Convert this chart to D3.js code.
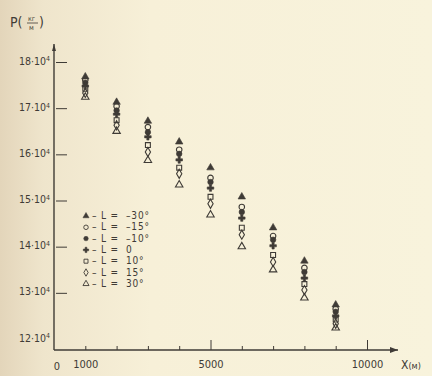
<!DOCTYPE html>
<html>
<head>
<meta charset="utf-8">
<script src="https://cdn.jsdelivr.net/npm/d3@7"></script>
<style>
  html, body { margin: 0; padding: 0; }
  body { width: 432px; height: 376px; overflow: hidden; }
  text { font-family: "DejaVu Sans Condensed", "Liberation Sans Narrow", sans-serif; fill: #3f3b36; }
</style>
</head>
<body>
<div id="chart"></div>
<script>
// distance along the path, metres
const distances = [1000, 2000, 3000, 4000, 5000, 6000, 7000, 8000, 9000];

// angle L for each series, degrees
const angles = [-30, -15, -10, 0, 10, 15, 30];

// P values, units of 10^4, one list per angle
const pLm30 = [17.68, 17.13, 16.72, 16.27, 15.71, 15.08, 14.41, 13.69, 12.74];
const pLm15 = [17.61, 17.04, 16.59, 16.10, 15.49, 14.86, 14.23, 13.54, 12.65];
const pLm10 = [17.55, 16.95, 16.48, 16.01, 15.40, 14.75, 14.15, 13.45, 12.59];
const pL0   = [17.48, 16.87, 16.38, 15.88, 15.27, 14.62, 14.02, 13.32, 12.50];
const pL10  = [17.42, 16.74, 16.20, 15.71, 15.08, 14.41, 13.82, 13.19, 12.42];
const pL15  = [17.33, 16.63, 16.05, 15.58, 14.93, 14.26, 13.67, 13.06, 12.33];
const pL30  = [17.24, 16.50, 15.87, 15.34, 14.69, 14.00, 13.50, 12.89, 12.24];

const xTicks = [1000, 2000, 3000, 4000, 5000, 6000, 7000, 8000, 9000, 10000];
const xLabels = {0: '0', 1000: '1000', 5000: '5000', 10000: '10000'};
const yTicks = [12, 13, 14, 15, 16, 17, 18];

const series = [
  {angle: angles[0], values: pLm30, shape: d3.symbolTriangle, fill: true},
  {angle: angles[1], values: pLm15, shape: d3.symbolCircle, fill: false},
  {angle: angles[2], values: pLm10, shape: d3.symbolCircle, fill: true},
  {angle: angles[3], values: pL0, shape: d3.symbolCross, fill: true},
  {angle: angles[4], values: pL10, shape: d3.symbolSquare, fill: false},
  {angle: angles[5], values: pL15, shape: d3.symbolDiamond, fill: false},
  {angle: angles[6], values: pL30, shape: d3.symbolTriangle, fill: false}
];

const ink = '#3f3b36';
const W = 432, H = 376;

const svg = d3.select('#chart').append('svg')
  .attr('width', W)
  .attr('height', H);

// paper
const defs = svg.append('defs');
const grad = defs.append('linearGradient').attr('id', 'paper');
grad.append('stop').attr('offset', '0%').attr('stop-color', '#e3d5ba');
grad.append('stop').attr('offset', '10%').attr('stop-color', '#efe5cc');
grad.append('stop').attr('offset', '35%').attr('stop-color', '#f7f0d8');
grad.append('stop').attr('offset', '100%').attr('stop-color', '#f8f3dc');
svg.append('rect').attr('width', W).attr('height', H).attr('fill', 'url(#paper)');

const x = d3.scaleLinear().domain([0, 10000]).range([54, 367]);
const y = d3.scaleLinear().domain([12, 18]).range([339, 62]);
const axisY = 350;

// x axis
const gx = svg.append('g')
  .attr('transform', 'translate(0,' + axisY + ')')
  .call(d3.axisBottom(x)
    .tickValues(xTicks)
    .tickSizeInner(-4)
    .tickSizeOuter(0)
    .tickPadding(10)
    .tickFormat(d => xLabels[d] || ''));
gx.select('.domain').remove();
gx.selectAll('.tick line')
  .attr('stroke', ink)
  .attr('y2', d => (d === 5000 || d === 10000) ? -10 : -4);
gx.selectAll('.tick text').style('font-size', '11px').attr('fill', ink);
svg.append('text').attr('x', x(0) + 3).attr('y', axisY + 20)
  .attr('text-anchor', 'middle').style('font-size', '11px').text('0');

svg.append('line')
  .attr('x1', x(0)).attr('x2', 398)
  .attr('y1', axisY).attr('y2', axisY)
  .attr('stroke', ink).attr('stroke-width', 1.4);
svg.append('path')
  .attr('d', 'M398,' + axisY + 'l-8,-3l0,6z')
  .attr('fill', ink);
const xl = svg.append('text').attr('x', 401).attr('y', axisY + 19).style('font-size', '12px');
xl.append('tspan').text('X');
xl.append('tspan').style('font-size', '9px').text('(м)');

// y axis
const gy = svg.append('g')
  .attr('transform', 'translate(' + x(0) + ',0)')
  .call(d3.axisLeft(y)
    .tickValues(yTicks)
    .tickSizeInner(-13)
    .tickSizeOuter(0)
    .tickPadding(4)
    .tickFormat(d => d));
gy.select('.domain').remove();
gy.selectAll('.tick line')
  .attr('stroke', ink)
  .attr('x1', 2)
  .attr('opacity', d => d === 12 ? 0 : 1);
gy.selectAll('.tick text')
  .style('font-size', '10.5px')
  .attr('fill', ink)
  .attr('dy', '0.2em')
  .each(function (d) {
    const t = d3.select(this).text('');
    t.append('tspan').text(d + '·10');
    t.append('tspan').attr('dy', '-0.45em').style('font-size', '7px').text('4');
  });

svg.append('line')
  .attr('x1', x(0)).attr('x2', x(0))
  .attr('y1', axisY).attr('y2', 44)
  .attr('stroke', ink).attr('stroke-width', 1.4);
svg.append('path')
  .attr('d', 'M' + x(0) + ',44l-2,7l4,0z')
  .attr('fill', ink);

// y axis title P(кг/м)
const yt = svg.append('g').attr('transform', 'translate(10,27)');
yt.append('text').attr('x', 0).attr('y', 0).style('font-size', '14px').text('P(');
yt.append('text').attr('x', 18).attr('y', -6).style('font-size', '7px').text('кг');
yt.append('line').attr('x1', 17).attr('x2', 28).attr('y1', -4).attr('y2', -4)
  .attr('stroke', ink).attr('stroke-width', 0.8);
yt.append('text').attr('x', 19).attr('y', 3).style('font-size', '7px').text('м');
yt.append('text').attr('x', 29).attr('y', 0).style('font-size', '14px').text(')');

// points
const sym = d3.symbol().size(24);
series.forEach(s => {
  svg.append('g').selectAll('path')
    .data(s.values.map((v, i) => ({d: distances[i], p: v})))
    .join('path')
    .attr('transform', d => 'translate(' + x(d.d) + ',' + y(d.p) + ')')
    .attr('d', sym.type(s.shape)())
    .attr('fill', s.fill ? ink : 'none')
    .attr('stroke', ink)
    .attr('stroke-width', s.fill ? 0.6 : 1.1);
});

// legend
const legend = svg.append('g').attr('transform', 'translate(86,219)');
const fmtAngle = a => a === 0 ? '0' : (a < 0 ? '–' + Math.abs(a) : '' + a) + '°';
series.forEach((s, i) => {
  const row = legend.append('g').attr('transform', 'translate(0,' + (i * 11.3) + ')');
  row.append('path')
    .attr('transform', 'translate(0,-3)')
    .attr('d', d3.symbol().size(16).type(s.shape)())
    .attr('fill', s.fill ? ink : 'none')
    .attr('stroke', ink)
    .attr('stroke-width', s.fill ? 0.5 : 0.9);
  row.append('text').attr('x', 6).attr('y', 0)
    .style('font-size', '10px')
    .style('letter-spacing', '0.8px')
    .attr('xml:space', 'preserve')
    .text('– L =  ' + fmtAngle(s.angle));
});
</script>
</body>
</html>
